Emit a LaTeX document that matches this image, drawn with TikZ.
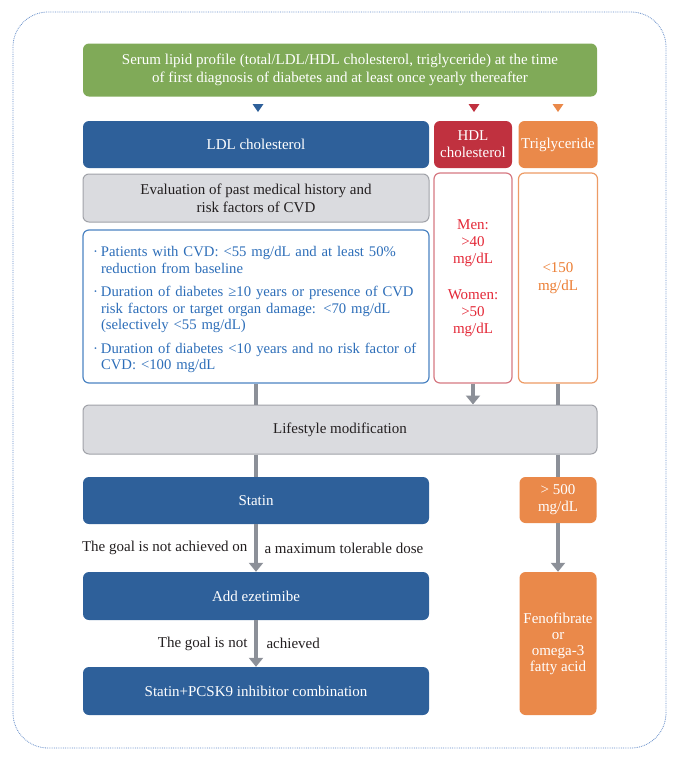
\documentclass[tikz,border=0pt]{standalone}
\usepackage{fontspec}
\setmainfont{Liberation Serif}
\usetikzlibrary{arrows.meta}
\definecolor{lipidgreen}{RGB}{128,170,88}
\definecolor{ldlblue}{RGB}{46,96,154}
\definecolor{hdlred}{RGB}{192,49,63}
\definecolor{tgorange}{RGB}{234,137,74}
\definecolor{boxgray}{RGB}{218,219,223}
\definecolor{edgegray}{RGB}{160,162,168}
\definecolor{goalblue}{RGB}{45,110,185}
\definecolor{goalred}{RGB}{228,40,55}
\definecolor{goalorange}{RGB}{236,125,50}
\definecolor{flowgray}{RGB}{140,144,152}
\definecolor{framedot}{RGB}{100,140,200}
\definecolor{inktext}{RGB}{35,31,32}

\newcommand{\goalitem}[1]{\par\hangindent=8pt\hangafter=1\noindent\makebox[8pt][l]{·}#1\par}

\begin{document}
\begin{tikzpicture}[x=1pt, y=-1pt,
    every node/.style={font=\fontsize{15}{18}\selectfont},
    box/.style={rectangle, rounded corners=6pt, inner sep=2pt, align=center},
    solidbox/.style={box, text=white},
    outline/.style={box, draw, line width=1.2pt, fill=white},
    flow/.style={flowgray, line width=4.5pt},
    flowarrow/.style={flow, -{Triangle[width=14pt,length=9pt]}}]
      \useasboundingbox (0,0) rectangle (680,761);

      % Frame
      \draw[framedot, densely dotted, line width=0.8pt, rounded corners=35pt] (13,12) rectangle (666,748);

      % Lipid profile
      \node[solidbox, fill=lipidgreen, minimum width=514pt, minimum height=53pt] (profile) at (340,70)
        {Serum lipid profile (total/LDL/HDL cholesterol, triglyceride) at the time\\of first diagnosis of diabetes and at least once yearly thereafter};

      % Small markers
      \foreach \x/\c in {258/ldlblue, 474/hdlred, 558/tgorange} {
          \fill[\c] (\x-5.5,104) -- (\x+5.5,104) -- (\x,112) -- cycle;
        }

      % Column heads
      \node[solidbox, fill=ldlblue, minimum width=346pt, minimum height=47pt] (ldl) at (256,144.5) {LDL cholesterol};
      \node[solidbox, fill=hdlred, minimum width=78pt, minimum height=47pt, font=\fontsize{15}{17}\selectfont] (hdl) at (473,144.5) {HDL\\cholesterol};
      \node[solidbox, fill=tgorange, minimum width=79pt, minimum height=47pt, inner sep=1pt] (tg) at (558,144.5) {Triglyceride};

      % Targets
      \node[box, fill=boxgray, draw=edgegray, line width=1pt, text=inktext, minimum width=346pt, minimum height=48pt] (history) at (256,198)
        {Evaluation of past medical history and\\risk factors of CVD};
      \node[outline, draw=goalblue!85, text=goalblue, minimum width=346pt, minimum height=153pt, text width=326pt, align=left,
        font=\fontsize{14.7}{16.5}\selectfont] (ldlgoal) at (256,306.5) {%
        \goalitem{Patients with CVD: <55 mg/dL and at least 50\%\newline reduction from baseline}\vspace{7pt}%
        \goalitem{Duration of diabetes ≥10 years or presence of CVD\newline risk factors or target organ damage: <70 mg/dL\newline (selectively <55 mg/dL)}\vspace{7pt}%
        \goalitem{Duration of diabetes <10 years and no risk factor of\newline CVD: <100 mg/dL}};
      \node[outline, draw=hdlred!65, text=goalred, minimum width=78pt, minimum height=210pt, font=\fontsize{15}{17}\selectfont] (hdlgoal) at (473,278)
        {Men:\\>40\\mg/dL\\[19pt]Women:\\>50\\mg/dL};
      \node[outline, draw=tgorange!85, text=goalorange, minimum width=79pt, minimum height=210pt] (tggoal) at (558,278) {<150\\mg/dL};

      % Treatment
      \node[box, fill=boxgray, draw=edgegray, line width=1pt, text=inktext, minimum width=514pt, minimum height=49pt] (lifestyle) at (340,429.5) {Lifestyle modification};
      \node[solidbox, fill=ldlblue, minimum width=346pt, minimum height=47pt] (statin) at (256,500.5) {Statin};
      \node[solidbox, fill=ldlblue, minimum width=346pt, minimum height=48pt] (ezetimibe) at (256,596) {Add ezetimibe};
      \node[solidbox, fill=ldlblue, minimum width=346pt, minimum height=48pt] (pcsk) at (256,691) {Statin+PCSK9 inhibitor combination};
      \node[solidbox, fill=tgorange, minimum width=77pt, minimum height=46pt, font=\fontsize{15}{17}\selectfont] (highTG) at (558,500) {> 500\\mg/dL};
      \node[solidbox, fill=tgorange, minimum width=77pt, minimum height=143pt, inner sep=1pt, font=\fontsize{15}{16}\selectfont] (fenofibrate) at (558,643.5)
        {Fenofibrate\\or\\omega-3\\fatty acid};

      % Connectors
      \draw[flow] (ldlgoal.south) -- (lifestyle.north -| ldlgoal.south);
      \draw[flowarrow] (hdlgoal.south) -- (lifestyle.north -| hdlgoal.south);
      \draw[flow] (tggoal.south) -- (lifestyle.north -| tggoal.south);
      \draw[flow] (lifestyle.south -| statin.north) -- (statin.north);
      \draw[flow] (lifestyle.south -| highTG.north) -- (highTG.north);
      \draw[flowarrow] (statin.south) -- (ezetimibe.north)
        node[midway, left=3pt, text=inktext] {The goal is not achieved on}
        node[midway, right=3pt, text=inktext] {a maximum tolerable dose};
      \draw[flowarrow] (ezetimibe.south) -- (pcsk.north)
        node[midway, left=3pt, text=inktext] {The goal is not}
        node[midway, right=5pt, text=inktext] {achieved};
      \draw[flowarrow] (highTG.south) -- (fenofibrate.north);
    \end{tikzpicture}
\end{document}
